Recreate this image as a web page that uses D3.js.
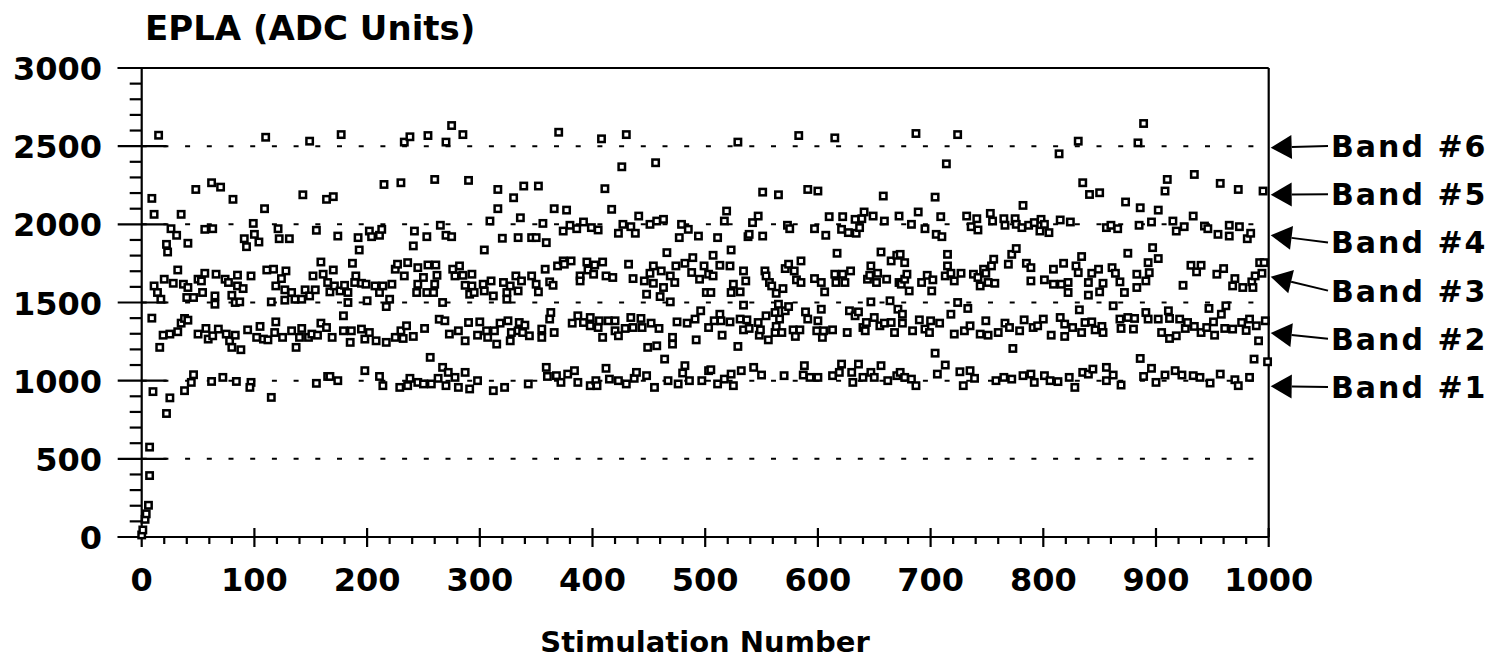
<!DOCTYPE html>
<html>
<head>
<meta charset="utf-8">
<script src="https://cdn.jsdelivr.net/npm/d3@7"></script>
<style>
  body { margin: 0; background: #fff; }
  text { font-family: "DejaVu Sans", "Liberation Sans", Arial, sans-serif; font-weight: bold; fill: #000; }
</style>
</head>
<body>
<script>
// stimulation number, EPLA value
var rampUp = [[0,13],[1,45],[3,113],[4,148],[6,203],[7,393],[7,575],[10,930],[22,790],[25,890]];

var band1 = [[38,936],[44,989],[46,1038],[62,995],[72,1021],[84,995],[97,989],[96,957],[115,893],[155,983],[165,1027],
  [167,1027],[174,1000],[198,1064],[211,1027],[214,968],[229,957],[236,968],[238,1015],[245,989],[250,979],[256,1149],[257,979],[263,1015],[267,1085],[270,968],[272,1053],[278,1021],[281,957],[287,1053],[291,947],[298,1000],[312,936],[322,957],
  [343,979],[359,1085],[360,1027],[368,1032],[372,989],[378,1042],[384,1064],[387,989],[398,968],[403,1000],[404,968],[412,1079],[415,1010],[423,1000],[430,979],[437,1015],[439,1053],[448,1032],[455,957],[464,1138],[467,1000],[476,979],[480,1049],[482,1096],[486,1000],[497,1000],[503,1064],
  [505,1070],[511,979],[517,1010],[523,1042],[525,968],[532,1064],[543,1085],[550,1036],[570,1032],[587,1036],[588,1096],[593,1021],[600,1021],[613,1032],[619,1053],[621,1106],[630,1053],[631,989],[636,1106],[640,1021],[647,1053],[650,1021],[656,1096],[662,1000],[670,1032],
  [673,1053],[677,1021],[683,1010],[687,968],[704,1176],[706,1042],[713,1100],[726,1057],[729,968],[735,1064],[739,1015],[758,1000],[765,1021],[772,1010],[782,1032],[789,1042],[792,989],[801,1032],[806,1000],[813,994],[823,1021],[828,957],[835,1053],[840,1042],
  [844,1074],[856,1085],[856,1000],[862,1036],[869,972],[886,1142],[889,1027],[896,1079],[900,989],[908,1036],[917,1064],[923,1036],[933,1032],[939,1021],[948,985],[957,1042],[970,1006],[973,968],[983,1021],[987,1138],[999,1121]];

var band2 = [[9,1400],[16,1213],[19,1291],[25,1298],[32,1313],[35,1368],[38,1398],[41,1387],[50,1298],[57,1334],[59,1266],[63,1287],[68,1330],[75,1298],[78,1255],[80,1213],[83,1291],[88,1198],[94,1325],[102,1277],[105,1347],[108,1266],[112,1261],[118,1308],[119,1376],[125,1277],[133,1319],[137,1213],[140,1277],[142,1334],[148,1277],[151,1298],[156,1291],[159,1368],[164,1340],
  [169,1277],[179,1415],[179,1319],[185,1245],[186,1319],[195,1330],[198,1266],[202,1308],[208,1255],[217,1245],[225,1277],[230,1319],[232,1270],[235,1351],[241,1283],[251,1334],[264,1393],[269,1383],[273,1298],[281,1319],[287,1255],[290,1372],[298,1291],[300,1376],[306,1319],[307,1277],[313,1319],[315,1234],[318,1368],[325,1383],[327,1255],[328,1308],[334,1319],
  [335,1372],[338,1308],[340,1355],[344,1287],[355,1330],[355,1277],[362,1394],[363,1436],[366,1308],[382,1368],[387,1415],[392,1372],[398,1404],[398,1351],[405,1340],[406,1383],[409,1277],[414,1383],[420,1383],[420,1319],[423,1287],[429,1334],[434,1404],[436,1340],[443,1398],[444,1340],[449,1213],[452,1368],[457,1223],[459,1334],[471,1277],[471,1234],[475,1376],[484,1368],[491,1394],[492,1261],[496,1447],[503,1340],
  [508,1383],[513,1425],[514,1383],[515,1291],[522,1376],[529,1219],[531,1394],[534,1325],[534,1483],[537,1389],[539,1334],[547,1372],[548,1291],[549,1325],[554,1415],[556,1261],[562,1436],[562,1308],[563,1347],[565,1489],[566,1394],[568,1308],[571,1447],[574,1474],[578,1325],[580,1283],[584,1325],[589,1440],[591,1394],[599,1319],[600,1383],[603,1457],[604,1277],[605,1319],[613,1325],[626,1308],[628,1447],[633,1415],[636,1440],[640,1340],[642,1319],[643,1372],[647,1504],[650,1404],[655,1351],[659,1368],[664,1511],[665,1372],[668,1308],[671,1457],
  [675,1425],[675,1368],[684,1319],[690,1389],[695,1330],[699,1308],[700,1383],[708,1368],[718,1425],[721,1298],[724,1500],[730,1319],[733,1462],[735,1351],[744,1298],[749,1383],[751,1291],[760,1308],[766,1368],[770,1340],[773,1206],[779,1319],[783,1389],[791,1340],[795,1351],[800,1394],[807,1291],[815,1404],[819,1362],[819,1283],[826,1340],[832,1453],[834,1308],[837,1372],
  [843,1376],[846,1325],[852,1347],[853,1308],[862,1479],[868,1394],[869,1334],[875,1404],[880,1330],[881,1398],[891,1436],[893,1394],[902,1394],[905,1308],[911,1447],[912,1398],[912,1270],[918,1287],[921,1394],[926,1334],[928,1372],[934,1347],[940,1308],[945,1340],[947,1462],[951,1376],[952,1291],[958,1425],[961,1334],[962,1479],[968,1330],[976,1372],[980,1321],[983,1394],[989,1351],[991,1255],[997,1383]];

var band3 = [[11,1606],[14,1564],[17,1521],[20,1649],[28,1623],[32,1708],[37,1617],[40,1532],[41,1596],[46,1532],[50,1649],[53,1638],[54,1564],[56,1687],[65,1542],[65,1489],[66,1681],[74,1649],[77,1628],[80,1546],[83,1500],[85,1675],[85,1606],[87,1504],[90,1589],[97,1670],[111,1708],[115,1504],[117,1713],[119,1606],[124,1653],[127,1581],[127,1515],[128,1702],[133,1564],[136,1521],[142,1521],[145,1581],[149,1542],[152,1670],[154,1581],[159,1759],[161,1681],[165,1628],
  [167,1568],[170,1708],[171,1606],[176,1574],[180,1610],[183,1564],[183,1500],[187,1751],[189,1628],[190,1670],[195,1623],[199,1617],[200,1511],[207,1606],[211,1564],[214,1606],[217,1474],[220,1521],[222,1617],[225,1713],[227,1745],[233,1670],[236,1755],[244,1564],[245,1723],[245,1617],[250,1660],[253,1564],[254,1740],[259,1564],[260,1617],[261,1740],[262,1674],[267,1500],[276,1713],[278,1670],[282,1734],[285,1674],[287,1610],[291,1553],[293,1681],[293,1606],[295,1564],[303,1617],[304,1574],[310,1638],[312,1542],[321,1628],[324,1564],[324,1521],[327,1606],[332,1670],[334,1574],
  [337,1638],[346,1670],[350,1617],[352,1568],[358,1713],[362,1632],[365,1610],[369,1734],[374,1766],[375,1745],[381,1766],[389,1670],[389,1638],[395,1759],[396,1708],[401,1681],[402,1740],[409,1759],[412,1670],[418,1660],[432,1745],[436,1653],[446,1638],[448,1553],[451,1687],[454,1734],[454,1623],[460,1538],[461,1702],[463,1596],[466,1819],[469,1670],[469,1504],[473,1628],[474,1734],[482,1751],[488,1692],[489,1787],[495,1649],[499,1734],[501,1564],[503,1681],
  [505,1564],[507,1802],[507,1670],[513,1738],[522,1734],[523,1836],[523,1564],[525,1617],[531,1568],[534,1702],[536,1638],[553,1702],[554,1670],[557,1628],[559,1606],[563,1559],[569,1589],[571,1717],[574,1745],[579,1702],[581,1645],[585,1766],[585,1628],[597,1653],[603,1628],[606,1568],[615,1681],[616,1628],[617,1815],[622,1681],[624,1628],[629,1702],[644,1649],[646,1674],[647,1734],[652,1628],[653,1687],[656,1823],[661,1649],[665,1766],[670,1802],[672,1628],
  [673,1808],[674,1617],[677,1755],[677,1649],[679,1681],[681,1574],[692,1628],[697,1674],[701,1574],[702,1645],[713,1670],[715,1808],[715,1734],[718,1687],[721,1638],[727,1687],[738,1681],[742,1660],[744,1606],[747,1713],[749,1687],[751,1628],[754,1734],[756,1777],[757,1623],[769,1745],[772,1808],[776,1845],[785,1751],[789,1723],[789,1638],[801,1645],[809,1713],[809,1617],[816,1617],[818,1751],[822,1628],[822,1564],[829,1734],[831,1691],[834,1794],[840,1628],[840,1547],
  [843,1687],[849,1713],[850,1568],[853,1623],[861,1723],[864,1687],[868,1632],[872,1564],[875,1815],[883,1596],[883,1681],[891,1638],[893,1755],[894,1691],[897,1851],[902,1781],[924,1610],[931,1738],[936,1696],[940,1738],[954,1681],[960,1717],[968,1606],[970,1653],[977,1596],[985,1632],[986,1596],[988,1670],[992,1755],[994,1687],[996,1755]];

var band4 = [[22,1872],[23,1823],[26,1972],[31,1930],[41,1879],[56,1968],[63,1972],[91,1908],[93,1857],[99,2006],[100,1936],[104,1887],[121,1972],[122,1908],[131,1908],[155,1962],
  [174,1925],[192,1915],[193,1836],[202,1957],[204,1921],[211,1930],[213,1968],[241,1862],[242,1957],[253,1921],[265,1994],[270,1930],[275,1921],[304,1836],[309,2021],[320,1911],[334,1915],[336,2042],
  [346,1915],[350,1915],[356,2006],[359,1883],[374,1957],[380,1994],[386,1972],[392,2015],[399,1979],[405,1964],[423,1943],[427,2000],[434,1985],[438,1943],[441,2053],[451,2000],[457,2021],[463,2032],[477,1915],[479,2000],[485,1968],[494,1925],
  [511,1915],[517,2021],[519,2085],[538,1921],[539,1936],[542,2011],[547,2053],[551,1925],[573,1994],[575,1972],[597,1972],[607,1930],[610,2049],[621,1968],[622,2049],[627,1947],[633,2032],[634,1943],[637,1979],[639,2036],[641,2079],[649,2053],[659,2021],[672,2053],
  [683,2000],[689,2079],[695,1972],[705,1936],[709,2049],[710,1921],[732,2053],[736,1985],[741,2036],[742,1964],[753,2070],[755,2021],[765,2036],[766,1994],[775,2036],[776,2000],[781,1979],[787,1994],[792,2011],[797,1957],[798,2032],[801,2000],[805,1947],[815,2028],[824,2015],
  [856,1979],[860,1994],[866,1972],[885,1994],[896,2015],[915,2021],[918,1957],[925,1985],[933,2053],[943,1989],[946,1972],[955,1936],[965,1994],[965,1925],[974,1985],[981,1908],[984,1943]];

var band5 = [[9,2166],[11,2064],[35,2064],[48,2223],[62,2266],[70,2238],[81,2160],[109,2100],[143,2189],[164,2160],
  [170,2177],[215,2255],[230,2266],[260,2287],[290,2281],[316,2223],[316,2100],[330,2170],
  [339,2245],[352,2245],[366,2100],[377,2091],[411,2228],[417,2096],[426,2368],[456,2394],
  [551,2206],[565,2189],[591,2223],[600,2213],[658,2181],
  [704,2174],[714,2387],[782,2121],[835,2266],[841,2191],
  [850,2202],[873,2143],[886,2106],[902,2091],[908,2213],[910,2287],[934,2319],[957,2262],[973,2223],[995,2213]];

var band6 = [[15,2570],[110,2557],[149,2532],[177,2574],[233,2526],[238,2560],[254,2568],[270,2526],[275,2632],[285,2574],
  [370,2589],[408,2547],[430,2574],[529,2526],[583,2568],[615,2553],[687,2581],[724,2574],[814,2451],[831,2532],[884,2521],[889,2645]];

var yMajorTicks = [0, 500, 1000, 1500, 2000, 2500, 3000];
var xMajorTicks = [0, 100, 200, 300, 400, 500, 600, 700, 800, 900, 1000];
var gridValues = [500, 1000, 1500, 2000, 2500];
var bandLabels = ['Band #6', 'Band #5', 'Band #4', 'Band #3', 'Band #2', 'Band #1'];
var bandLevels = [2490, 2190, 1930, 1665, 1305, 965];

var width = 1498;
var height = 659;

var svg = d3.select('body')
    .append('svg')
    .attr('width', width)
    .attr('height', height)
    .style('background', '#fff')

var x = d3.scaleLinear()
    .domain([0, 1000])
    .range([141.7, 1268.7]);

var y = d3.scaleLinear()
    .domain([0, 3000])
    .range([537, 68]);

// dotted grid lines
svg.append('g')
    .selectAll('line')
    .data(gridValues)
    .join('line')
    .attr('x1', x(0))
    .attr('x2', x(1000) - 4)
    .attr('y1', d => y(d))
    .attr('y2', d => y(d))
    .attr('stroke', '#000')
    .attr('stroke-width', 2)
    .attr('stroke-dasharray', '5,16.7')

// frame: left axis, bottom axis, top and right border
var frame = svg.append('g').attr('stroke', '#000').attr('stroke-width', 2.2).attr('fill', 'none')
frame.append('line').attr('x1', x(0)).attr('x2', x(0)).attr('y1', y(0)).attr('y2', y(3000))
frame.append('line').attr('x1', x(0) - 24).attr('x2', x(1000)).attr('y1', y(0)).attr('y2', y(0))
frame.append('line').attr('x1', x(0) - 24).attr('x2', x(1000)).attr('y1', y(3000)).attr('y2', y(3000))
frame.append('line').attr('x1', x(1000)).attr('x2', x(1000)).attr('y1', y(3000)).attr('y2', y(0))

// y ticks
frame.selectAll('.ymaj')
    .data(yMajorTicks)
    .join('line')
    .attr('x1', x(0) - 24)
    .attr('x2', x(0) + 25)
    .attr('y1', d => y(d))
    .attr('y2', d => y(d))
frame.selectAll('.ymin')
    .data(d3.range(100, 3000, 100).filter(d => d % 500 != 0))
    .join('line')
    .attr('x1', x(0) - 12)
    .attr('x2', x(0))
    .attr('y1', d => y(d))
    .attr('y2', d => y(d))

// x ticks
frame.selectAll('.xmaj')
    .data(xMajorTicks)
    .join('line')
    .attr('x1', d => x(d))
    .attr('x2', d => x(d))
    .attr('y1', y(0) - 9)
    .attr('y2', y(0) + 10)
frame.selectAll('.xmin')
    .data(d3.range(20, 1000, 20).filter(d => d % 100 != 0))
    .join('line')
    .attr('x1', d => x(d))
    .attr('x2', d => x(d))
    .attr('y1', y(0))
    .attr('y2', y(0) + 7)

// tick labels
svg.append('g')
    .selectAll('text')
    .data(yMajorTicks)
    .join('text')
    .attr('x', 102)
    .attr('y', d => y(d) + 12)
    .attr('text-anchor', 'end')
    .attr('font-size', 32)
    .text(d => d)

svg.append('g')
    .selectAll('text')
    .data(xMajorTicks)
    .join('text')
    .attr('x', d => x(d))
    .attr('y', 591)
    .attr('text-anchor', 'middle')
    .attr('font-size', 32)
    .text(d => d)

svg.append('text')
    .attr('x', 145)
    .attr('y', 40)
    .attr('font-size', 34)
    .text('EPLA (ADC Units)')

svg.append('text')
    .attr('x', 705)
    .attr('y', 652)
    .attr('text-anchor', 'middle')
    .attr('font-size', 29)
    .text('Stimulation Number')

// markers
var allPoints = [].concat(rampUp, band1, band2, band3, band4, band5, band6);

svg.append('g')
    .selectAll('rect')
    .data(allPoints)
    .join('rect')
    .attr('x', d => x(d[0]) - 3.2)
    .attr('y', d => y(d[1]) - 3.2)
    .attr('width', 6.4)
    .attr('height', 6.4)
    .attr('fill', '#fff')
    .attr('stroke', '#000')
    .attr('stroke-width', 2.5)

// band labels with arrows
var labelX = 1331;
var bandGroup = svg.append('g')

bandLabels.forEach((label, i) => {
    var baseline = 157 + i * 48.2;
    var tailY = baseline - 11;
    var tipX = x(1000) + 2;
    var tipY = y(bandLevels[i]);
    var tailX = labelX - 3;
    var ang = Math.atan2(tailY - tipY, tailX - tipX);
    var len = 21, half = 12;
    var bx = tipX + len * Math.cos(ang), by = tipY + len * Math.sin(ang);
    var px = -Math.sin(ang) * half, py = Math.cos(ang) * half;

    bandGroup.append('path')
        .attr('d', 'M' + tipX + ',' + tipY + 'L' + (bx + px) + ',' + (by + py) + 'L' + (bx - px) + ',' + (by - py) + 'Z')
        .attr('fill', '#000')
    bandGroup.append('line')
        .attr('x1', bx)
        .attr('y1', by)
        .attr('x2', tailX)
        .attr('y2', tailY)
        .attr('stroke', '#000')
        .attr('stroke-width', 2)
    bandGroup.append('text')
        .attr('x', labelX)
        .attr('y', baseline)
        .attr('font-size', 30)
        .attr('letter-spacing', 2)
        .text(label)
})
</script>
</body>
</html>
